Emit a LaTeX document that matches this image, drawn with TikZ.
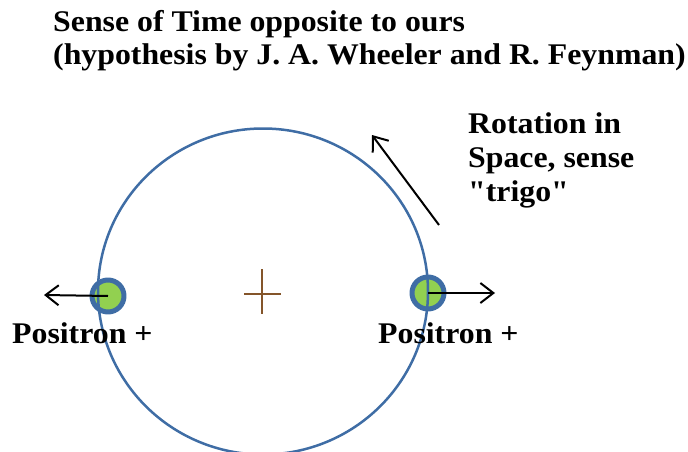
\documentclass[tikz,border=0pt]{standalone}
\usepackage{fontspec}
\setmainfont{Liberation Serif}[Ligatures=TeXOff,FakeStretch=1.06]
\usetikzlibrary{arrows.meta}
\definecolor{orbit}{HTML}{3F6DA5}
\definecolor{lime}{HTML}{92D050}
\definecolor{umber}{HTML}{84552A}
\tikzset{fig/.style={line join=round,>={Straight Barb[length=13pt,width=20pt]}},
  lbl/.style={font=\bfseries\fontsize{30}{34}\selectfont,inner sep=0pt,align=left},
  posi/.style={circle,draw=orbit,line width=5pt,fill=lime,minimum size=32pt,inner sep=0pt}}

\begin{document}
\begin{tikzpicture}[fig,x=1pt,y=-1pt]
  \useasboundingbox(0,0)rectangle(688,452);
  \node[lbl,anchor=base west,font=\bfseries\fontsize{30}{33}\selectfont](title)at(53,65){Sense of Time opposite to ours\\(hypothesis by J. A. Wheeler and R. Feynman)};
  \node[posi](pl)at(108,296){};\node[posi](pr)at(428,293){};
  \coordinate(o)at(263,291.5);\draw[orbit,line width=2.5pt](o)ellipse[x radius=165pt,y radius=163pt];
  \draw[umber,line width=1.5pt](244,294)--(281,294)(262,269)--(262,314);
  \coordinate(pl-to)at(44,295);\coordinate(pr-to)at(495,293);
  \draw[->,line width=2pt](pl.center)--(pl-to);\draw[->,line width=2pt](pr.center)--(pr-to);
  \node[lbl,anchor=base west](pl-lbl)at(12,343){Positron +};
  \node[lbl,anchor=base west](pr-lbl)at(378,343){Positron +};
  % sense trigo
  \coordinate(rot-from)at(439,225);\coordinate(rot-to)at(372,135);
  \draw[->,line width=2pt](rot-from)--(rot-to);
  \node[lbl,anchor=base west](rot)at(468,201){Rotation in\\Space, sense\\"trigo"};
\end{tikzpicture}
\end{document}
